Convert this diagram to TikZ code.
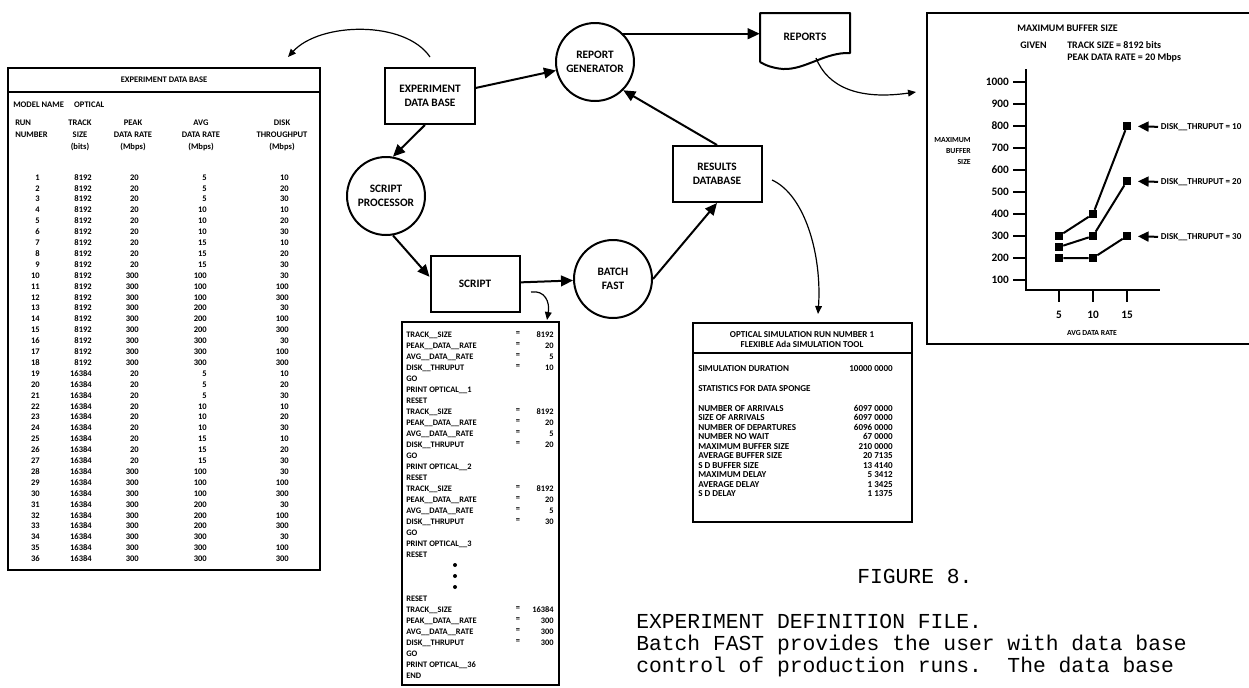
\documentclass[tikz,border=0pt]{standalone}
\usepackage{fontspec}
\setmainfont{Carlito}
\newfontfamily\typew{Liberation Mono}
\usetikzlibrary{arrows.meta}
\newcommand\fsz[2]{\fontsize{#1}{#2}\selectfont}
\begin{document}
\begin{tikzpicture}[x=0.75pt,y=-0.75pt,
  dg/.style={font=\fsz{8.5}{10.5}\bfseries, align=center},
  boxn/.style={draw, line width=1.5pt, minimum width=67.5pt, minimum height=42pt, inner sep=0pt, dg},
  circn/.style={draw, circle, line width=1.5pt, minimum size=58.5pt, inner sep=0pt, dg},
  arr/.style={line width=1.5pt, -{Triangle[length=9pt,width=8pt]}},
  carr/.style={line width=0.9pt, -{Triangle[length=6pt,width=5pt]}},
  frame/.style={draw, line width=1.2pt},
  tsm/.style={font=\fsz{6.4}{9}\bfseries, inner sep=0pt},
  lst/.style={font=\fsz{6.3}{8}\bfseries, inner sep=0pt},
  rsm/.style={font=\fsz{6.8}{7.5}\bfseries, inner sep=0pt},
  gt/.style={font=\fsz{7.5}{9}\bfseries, inner sep=0pt},
  gl/.style={font=\fsz{8.5}{10}\bfseries, inner sep=0pt},
  gs/.style={font=\fsz{5.8}{8.25}\bfseries, inner sep=0pt},
  gd/.style={font=\fsz{6.8}{8}\bfseries, inner sep=0pt},
  typ/.style={font=\typew\fsz{16}{16.5}, inner sep=0pt},
  mk/.style={rectangle, fill=black, minimum size=6pt, inner sep=0pt},
  ser/.style={line width=1.5pt},
  larr/.style={line width=1.5pt, -{Triangle[length=8pt,width=7.5pt]}, shorten >=5pt}
]
\useasboundingbox (0,0) rectangle (1249,687);

% ---------------- left table ----------------
\draw[line width=1.4pt] (8,68) rectangle (320,570);
\draw[line width=1pt] (8,92) -- (320,92);
\node[tsm] (ttitle) at (164,80) {EXPERIMENT DATA BASE};
\node[tsm, anchor=mid west] (tmodel) at (13,104) {MODEL NAME\hspace{1.2em}OPTICAL};
\node[tsm, align=left, anchor=west] (hrun) at (15,129) {RUN\\NUMBER};
\node[tsm, align=center] (htrack) at (80,135) {TRACK\\SIZE\\(bits)};
\node[tsm, align=center] (hpeak) at (133,135) {PEAK\\DATA RATE\\(Mbps)};
\node[tsm, align=center] (havg) at (201,135) {AVG\\DATA RATE\\(Mbps)};
\node[tsm, align=center] (hdisk) at (282,135) {DISK\\THROUGHPUT\\(Mbps)};
\foreach \n/\t/\p/\a/\d in {
 1/8192/20/5/10, 2/8192/20/5/20, 3/8192/20/5/30,
 4/8192/20/10/10, 5/8192/20/10/20, 6/8192/20/10/30,
 7/8192/20/15/10, 8/8192/20/15/20, 9/8192/20/15/30,
 10/8192/300/100/30, 11/8192/300/100/100, 12/8192/300/100/300,
 13/8192/300/200/30, 14/8192/300/200/100, 15/8192/300/200/300,
 16/8192/300/300/30, 17/8192/300/300/100, 18/8192/300/300/300,
 19/16384/20/5/10, 20/16384/20/5/20, 21/16384/20/5/30,
 22/16384/20/10/10, 23/16384/20/10/20, 24/16384/20/10/30,
 25/16384/20/15/10, 26/16384/20/15/20, 27/16384/20/15/30,
 28/16384/300/100/30, 29/16384/300/100/100, 30/16384/300/100/300,
 31/16384/300/200/30, 32/16384/300/200/100, 33/16384/300/200/300,
 34/16384/300/300/30, 35/16384/300/300/100, 36/16384/300/300/300} {
  \node[tsm, anchor=mid east] (ra\n) at (40,{177+(\n-1)*10.9}) {\n};
  \node[tsm, anchor=mid east] (rb\n) at (92,{177+(\n-1)*10.9}) {\t};
  \node[tsm, anchor=mid east] (rc\n) at (139,{177+(\n-1)*10.9}) {\p};
  \node[tsm, anchor=mid east] (rd\n) at (207,{177+(\n-1)*10.9}) {\a};
  \node[tsm, anchor=mid east] (re\n) at (289,{177+(\n-1)*10.9}) {\d};
}

% ---------------- flow diagram ----------------
\node[boxn] (edb) at (430,96) {EXPERIMENT\\DATA BASE};
\node[circn] (rg) at (595,62) {REPORT\\GENERATOR};
\node[circn] (sp) at (386,196) {SCRIPT\\PROCESSOR};
\node[boxn, minimum width=66.75pt] (scr) at (475,284) {SCRIPT};
\node[circn] (bf) at (613,279) {BATCH\\FAST};
\node[boxn, minimum width=66.75pt] (rdb) at (717,174) {RESULTS\\DATABASE};
\node[dg, minimum width=67.5pt, minimum height=30pt, inner sep=0pt] (rep) at (805,37) {REPORTS};
\draw[line width=1.5pt, line join=round] (760,62) -- (760,13) -- (850,13) -- (850,53)
  .. controls (825,52) and (805,70) .. (783,69) .. controls (772,68) and (765,65) .. (760,62);

\draw[arr] (edb.10) -- (rg);
\draw[arr] (edb.-100) -- (sp.80);
\draw[arr] (sp.-80) -- (scr.171);
\draw[arr] (scr) -- (bf);
\draw[arr] (bf.east) -- (rdb.south);
\draw[arr] (rdb.north) -- (rg.south east);
\draw[arr] (rg.45) -- (rg.45 -| rep.west);

\coordinate (c1s) at (430,57); \coordinate (c1e) at (288,57);
\draw[carr] (c1s) .. controls (405,20) and (320,22) .. (c1e);
\coordinate (c2s) at (531,292); \coordinate (c2e) at (547,320);
\draw[carr] (c2s) .. controls (545,290) and (550,302) .. (c2e);
\coordinate (c3s) at (772,180); \coordinate (c3e) at (818,314);
\draw[carr] (c3s) .. controls (805,195) and (822,255) .. (c3e);
\coordinate (c4s) at (816,58); \coordinate (c4e) at (916,92);
\draw[carr] (c4s) .. controls (828,88) and (860,100) .. (c4e);

% ---------------- script listing ----------------
\draw[frame] (402,322) rectangle (559,685);
\foreach \i/\s in {1/TRACK\_\_SIZE, 2/PEAK\_\_DATA\_\_RATE, 3/AVG\_\_DATA\_\_RATE, 4/DISK\_\_THRUPUT,
  5/GO, 6/PRINT OPTICAL\_\_1, 7/RESET,
  8/TRACK\_\_SIZE, 9/PEAK\_\_DATA\_\_RATE, 10/AVG\_\_DATA\_\_RATE, 11/DISK\_\_THRUPUT,
  12/GO, 13/PRINT OPTICAL\_\_2, 14/RESET,
  15/TRACK\_\_SIZE, 16/PEAK\_\_DATA\_\_RATE, 17/AVG\_\_DATA\_\_RATE, 18/DISK\_\_THRUPUT,
  19/GO, 20/PRINT OPTICAL\_\_3, 21/RESET,
  25/RESET, 26/TRACK\_\_SIZE, 27/PEAK\_\_DATA\_\_RATE, 28/AVG\_\_DATA\_\_RATE, 29/DISK\_\_THRUPUT,
  30/GO, 31/PRINT OPTICAL\_\_36, 32/END} {
  \node[lst, anchor=mid west] (ln\i) at (406,{334+(\i-1)*11}) {\s};
}
\foreach \i/\v in {1/8192, 2/20, 3/5, 4/10, 8/8192, 9/20, 10/5, 11/20,
  15/8192, 16/20, 17/5, 18/30, 26/16384, 27/300, 28/300, 29/300} {
  \node[lst] (eq\i) at (518,{334+(\i-1)*11}) {=};
  \node[lst, anchor=mid east] (lv\i) at (554,{334+(\i-1)*11}) {\v};
}
\foreach \i in {22,23,24} {
  \node[circle, fill, inner sep=0pt, minimum size=3pt] (dot\i) at (455,{334+(\i-1)*11}) {};
}

% ---------------- results listing ----------------
\draw[frame] (693,323) rectangle (912,522);
\draw[line width=1pt] (693,353) -- (912,353);
\node[rsm, align=center] (rtitle) at (802,340) {OPTICAL SIMULATION RUN NUMBER 1\\FLEXIBLE Ada SIMULATION TOOL};
\node[rsm, anchor=mid west] (rsd) at (698,368) {SIMULATION DURATION};
\node[rsm, anchor=mid east] (rsdv) at (893,368) {10000 0000};
\node[rsm, anchor=mid west] (rst) at (698,388) {STATISTICS FOR DATA SPONGE};
\foreach \k/\s/\v in {0/NUMBER OF ARRIVALS/6097 0000, 1/SIZE OF ARRIVALS/6097 0000,
  2/NUMBER OF DEPARTURES/6096 0000, 3/NUMBER NO WAIT/67 0000,
  4/MAXIMUM BUFFER SIZE/210 0000, 5/AVERAGE BUFFER SIZE/20 7135,
  6/S D BUFFER SIZE/13 4140, 7/MAXIMUM DELAY/5 3412,
  8/AVERAGE DELAY/1 3425, 9/S D DELAY/1 1375} {
  \node[rsm, anchor=mid west] (rl\k) at (698,{408+\k*9.5}) {\s};
  \node[rsm, anchor=mid east] (rv\k) at (893,{408+\k*9.5}) {\v};
}

% ---------------- graph ----------------
\draw[frame] (927,13) rectangle (1262,344);
\node[gt, anchor=mid west] (gtitle) at (1017,28) {MAXIMUM BUFFER SIZE};
\node[gt, anchor=mid west] (ggiven) at (1020,45) {GIVEN};
\node[gt, anchor=mid west] (gts) at (1067,45) {TRACK SIZE = 8192 bits};
\node[gt, anchor=mid west] (gpk) at (1067,57) {PEAK DATA RATE = 20 Mbps};
\draw[line width=1.5pt] (1026,69) -- (1026,290) -- (1160,290);
\foreach \v in {100,200,...,1000} {
  \draw[line width=1.2pt] (1013,{280-(\v-100)*0.22}) -- (1026,{280-(\v-100)*0.22});
  \node[gl, anchor=mid east] (yl\v) at (1009,{280-(\v-100)*0.22}) {\v};
}
\foreach \xv/\xp in {5/1059,10/1093,15/1127} {
  \draw[line width=1.2pt] (\xp,290) -- (\xp,302);
  \node[gl] (xl\xv) at (\xp,315) {\xv};
}
\node[gs] (xlab) at (1092,333) {AVG DATA RATE};
\node[gs, align=right, anchor=east] (ylab) at (971,151) {MAXIMUM\\BUFFER\\SIZE};
\node[mk] (a1) at (1059,236) {}; \node[mk] (a2) at (1093,214) {}; \node[mk] (a3) at (1127,126) {};
\node[mk] (b1) at (1059,247) {}; \node[mk] (b2) at (1093,236) {}; \node[mk] (b3) at (1127,181) {};
\node[mk] (c1) at (1059,258) {}; \node[mk] (c2) at (1093,258) {}; \node[mk] (c3) at (1127,236) {};
\draw[ser] (a1) -- (a2) -- (a3);
\draw[ser] (b1) -- (b2) -- (b3);
\draw[ser] (c1) -- (c2) -- (c3);
\node[gd, anchor=mid west, inner sep=2pt] (l10) at (1158,126) {DISK\_\_THRUPUT = 10};
\node[gd, anchor=mid west, inner sep=2pt] (l20) at (1158,181) {DISK\_\_THRUPUT = 20};
\node[gd, anchor=mid west, inner sep=2pt] (l30) at (1158,236) {DISK\_\_THRUPUT = 30};
\draw[larr] (l10.west) -- (a3);
\draw[larr] (l20.west) -- (b3);
\draw[larr] (l30.west) -- (c3);

% ---------------- caption text ----------------
\node[typ, anchor=mid west] (fig) at (857,580) {FIGURE 8.};
\node[typ, anchor=mid west] (p1) at (636,625) {EXPERIMENT DEFINITION FILE.};
\node[typ, anchor=mid west] (p2) at (636,647) {Batch FAST provides the user with data base};
\node[typ, anchor=mid west] (p3) at (636,669) {control of production runs.\ \ The data base};
\end{tikzpicture}
\end{document}
